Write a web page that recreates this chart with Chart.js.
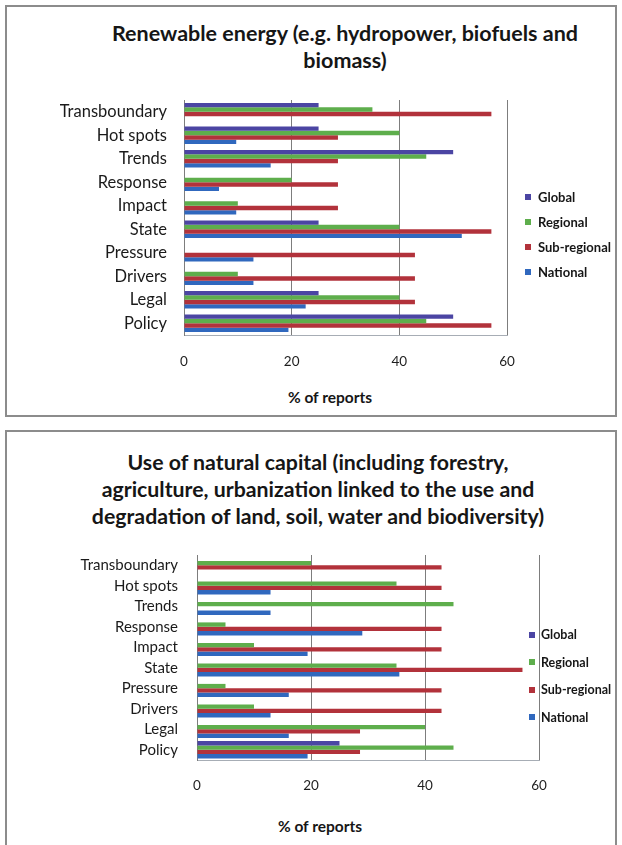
<!DOCTYPE html>
<html>
<head>
<meta charset="utf-8">
<title>Reports by assessment scale</title>
<script src="https://cdn.jsdelivr.net/npm/chart.js@4.4.1/dist/chart.umd.min.js"></script>
<style>
  html, body { margin: 0; padding: 0; background: #fff; width: 622px; height: 845px; overflow: hidden; }
  body { position: relative; font-family: Lato, "Open Sans", "Noto Sans", sans-serif; color: #161616; }
  .panel { position: absolute; box-sizing: border-box; border: 2px solid #8c8c8c; background: #fff; }
  .ttl { position: absolute; font-weight: 700; text-align: center; white-space: nowrap; transform: translateX(-50%); line-height: 27px; }
  .axt { position: absolute; font-weight: 700; font-size: 15.5px; line-height: 20px; white-space: nowrap; transform: translateX(-50%); }
  .cv { position: absolute; }
  ul.lg { position: absolute; list-style: none; margin: 0; padding: 0; font-weight: 700; white-space: nowrap; }
  ul.lg li { display: flex; align-items: center; }
  ul.lg li span.sw { display: inline-block; width: 6px; height: 6px; flex: none; }
</style>
</head>
<body>
<div class="panel" style="left:5px;top:5px;width:612px;height:412px;"></div>
<div class="panel" style="left:5px;top:430px;width:612px;height:430px;"></div>

<div class="ttl" id="title1" style="left:345px;top:19.5px;font-size:21.5px;"></div>
<div class="ttl" id="title2" style="left:318px;top:448.5px;font-size:21.3px;"></div>

<canvas class="cv" id="c1" width="610" height="290" style="left:6px;top:90px;"></canvas>
<canvas class="cv" id="c2" width="610" height="260" style="left:6px;top:545px;"></canvas>

<div class="axt" id="axis1" style="left:330px;top:387px;"></div>
<div class="axt" id="axis2" style="left:320px;top:816px;"></div>

<ul class="lg" id="legend1" style="left:525px;top:184px;font-size:13px;"></ul>
<ul class="lg" id="legend2" style="left:529px;top:621px;font-size:12.5px;"></ul>

<script>
// Categories and scale labels shared by both panels
const categories = ['Transboundary', 'Hot spots', 'Trends', 'Response', 'Impact', 'State', 'Pressure', 'Drivers', 'Legal', 'Policy'];
const seriesNames = ['Global', 'Regional', 'Sub-regional', 'National'];
const seriesColors = ['#4b45a3', '#5eae4c', '#b2323b', '#3068be'];
const xTickLabels = ['0', '20', '40', '60'];
const axisTitle = '% of reports';

// Panel 1: renewable energy (% of reports per scale)
const title1 = ['Renewable energy (e.g. hydropower, biofuels and', 'biomass)'];
const energyGlobal      = [25, 25, 50, 0, 0, 25, 0, 0, 25, 50];
const energyRegional    = [35, 40, 45, 20, 10, 40, 0, 10, 40, 45];
const energySubRegional = [57.1, 28.6, 28.6, 28.6, 28.6, 57.1, 42.9, 42.9, 42.9, 57.1];
const energyNational    = [0, 9.7, 16.1, 6.5, 9.7, 51.6, 12.9, 12.9, 22.6, 19.4];

// Panel 2: use of natural capital (% of reports per scale)
const title2 = ['Use of natural capital (including forestry,', 'agriculture, urbanization linked to the use and', 'degradation of land, soil, water and biodiversity)'];
const capitalGlobal      = [0, 0, 0, 0, 0, 0, 0, 0, 0, 25];
const capitalRegional    = [20, 35, 45, 5, 10, 35, 5, 10, 40, 45];
const capitalSubRegional = [42.9, 42.9, 0, 42.9, 42.9, 57.1, 42.9, 42.9, 28.6, 28.6];
const capitalNational    = [0, 12.9, 12.9, 29.0, 19.4, 35.5, 16.1, 12.9, 16.1, 19.4];

// Plain-text headings
document.getElementById('title1').innerHTML = title1.map(t => '<div>' + t + '</div>').join('');
document.getElementById('title2').innerHTML = title2.map(t => '<div>' + t + '</div>').join('');
document.getElementById('axis1').textContent = axisTitle;
document.getElementById('axis2').textContent = axisTitle;

// Legend built from the chart's own legend items
const htmlLegend = {
  id: 'htmlLegend',
  afterUpdate(chart, args, opts) {
    const ul = document.getElementById(opts.containerID);
    ul.innerHTML = '';
    const items = chart.options.plugins.legend.labels.generateLabels(chart);
    items.forEach(item => {
      const li = document.createElement('li');
      li.style.height = opts.rowHeight + 'px';
      const sw = document.createElement('span');
      sw.className = 'sw';
      sw.style.background = item.fillStyle;
      const tx = document.createElement('span');
      tx.style.marginLeft = opts.gap + 'px';
      tx.textContent = item.text;
      li.appendChild(sw);
      li.appendChild(tx);
      ul.appendChild(li);
    });
  }
};

function makeDatasets(values) {
  return values.map((vals, i) => ({
    label: seriesNames[i],
    data: vals,
    backgroundColor: seriesColors[i],
    borderWidth: 0
  }));
}

// Fixed axis sizes so the plot area sits exactly where the layout wants it
function pinSize(prop, size) {
  return s => {
    s[prop] = size;
    s.paddingTop = 0; s.paddingBottom = 0; s.paddingLeft = 0; s.paddingRight = 0;
  };
}

function makeChart(id, values, cfg) {
  return new Chart(document.getElementById(id), {
    type: 'bar',
    data: { labels: categories, datasets: makeDatasets(values) },
    plugins: [htmlLegend],
    options: {
      indexAxis: 'y',
      responsive: false,
      animation: false,
      events: [],
      layout: { padding: { top: 10, right: cfg.padRight, left: 0, bottom: 0 } },
      datasets: { bar: { categoryPercentage: cfg.catPct, barPercentage: 1 } },
      plugins: {
        legend: { display: false },
        title: { display: false },
        tooltip: { enabled: false },
        htmlLegend: { containerID: cfg.legendId, rowHeight: cfg.rowHeight, gap: cfg.gap }
      },
      scales: {
        x: {
          min: 0, max: 60,
          ticks: {
            stepSize: 20, padding: cfg.tickPad, color: '#1e1e1e',
            font: { family: 'Lato', size: 13.5 },
            callback: (v, i) => xTickLabels[i]
          },
          grid: {
            drawTicks: false, lineWidth: 1,
            color: c => (c.tick && c.tick.value === 0) ? 'rgba(0,0,0,0)' : '#7d7d7d'
          },
          border: { display: true, color: '#a7adb5', width: 1 },
          afterFit: pinSize('height', 45)
        },
        y: {
          ticks: {
            autoSkip: false, padding: cfg.labelPad, color: '#1a1a1a',
            font: { family: 'Lato', size: cfg.labelSize }
          },
          grid: { display: false, drawTicks: false },
          border: { display: true, color: '#7d7d7d', width: 1 },
          afterFit: pinSize('width', cfg.yWidth)
        }
      }
    }
  });
}

makeChart('c1', [energyGlobal, energyRegional, energySubRegional, energyNational], {
  padRight: 109, yWidth: 178, catPct: 0.75, labelPad: 17, labelSize: 16.5, tickPad: 19,
  legendId: 'legend1', rowHeight: 25.2, gap: 7
});

makeChart('c2', [capitalGlobal, capitalRegional, capitalSubRegional, capitalNational], {
  padRight: 77, yWidth: 191, catPct: 0.85, labelPad: 19, labelSize: 15, tickPad: 18,
  legendId: 'legend2', rowHeight: 27.5, gap: 6
});
</script>
</body>
</html>
